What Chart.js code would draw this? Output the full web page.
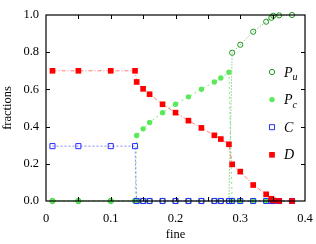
<!DOCTYPE html>
<html lang="en">
  <head>
    <meta charset="utf-8" />
    <title>fractions vs fine</title>
    <style>
      * {
        margin: 0;
        padding: 0;
      }
      body {
        background: white;
      }
    </style>
  </head>
  <body>
    <canvas id="myChart" width="316" height="244"></canvas>
    <script src="https://cdn.jsdelivr.net/npm/chart.js"></script>
    <script>
      // data
      const fine = [0.01, 0.05, 0.1, 0.1375, 0.14, 0.15, 0.16, 0.18, 0.2, 0.22, 0.24, 0.26, 0.27, 0.2825, 0.2875, 0.3, 0.32, 0.34, 0.348, 0.351, 0.36, 0.38];
      const pu = [0, 0, 0, 0, 0, 0, 0, 0, 0, 0, 0, 0, 0, 0, 0.797, 0.84, 0.91, 0.964, 0.985, 0.996, 0.998, 1.0];
      const pc = [0, 0, 0, 0, 0.352, 0.388, 0.422, 0.475, 0.52, 0.56, 0.601, 0.64, 0.661, 0.692, 0, 0, 0, 0, 0, 0, 0, 0];
      const coop = [0.295, 0.295, 0.295, 0.295, 0, 0, 0, 0, 0, 0, 0, 0, 0, 0, 0, 0, 0, 0, 0, 0, 0, 0];
      const defect = [0.7, 0.7, 0.7, 0.7, 0.64, 0.603, 0.574, 0.52, 0.475, 0.432, 0.393, 0.353, 0.333, 0.305, 0.197, 0.158, 0.086, 0.036, 0.012, 0.003, 0, 0];

      const xTicks = [0, 0.1, 0.2, 0.3, 0.4];
      const xLabels = ["0", "0.1", "0.2", "0.3", "0.4"];
      const yTicks = [0, 0.2, 0.4, 0.6, 0.8, 1.0];
      const yLabels = ["0.0", "0.2", "0.4", "0.6", "0.8", "1.0"];
      const names = [["P", "u"], ["P", "c"], ["C", ""], ["D", ""]];

      const serif = "'Liberation Serif', 'DejaVu Serif', serif";

      function pts(ys) {
        return fine.map((x, i) => ({ x: x, y: ys[i] }));
      }

      const data = {
        datasets: [
          {
            data: pts(pu),
            showLine: true,
            borderColor: "rgba(20, 140, 20, 0.7)",
            borderWidth: 1,
            borderDash: [1, 2],
            pointStyle: "circle",
            pointRadius: 2.6,
            pointBorderWidth: 1,
            pointBorderColor: "#1f9a1f",
            pointBackgroundColor: "rgba(0,0,0,0)",
            order: 4,
            clip: false,
          },
          {
            data: pts(pc),
            showLine: true,
            borderColor: "rgba(90, 230, 90, 0.8)",
            borderWidth: 1,
            borderDash: [2, 3],
            pointStyle: "circle",
            pointRadius: 2.7,
            pointBorderWidth: 0,
            pointBackgroundColor: "#5be85b",
            order: 3,
            clip: false,
          },
          {
            data: pts(coop),
            showLine: true,
            borderColor: "rgba(60, 60, 255, 0.6)",
            borderWidth: 1,
            borderDash: [2, 2],
            pointStyle: "rect",
            pointRadius: 3.6,
            pointBorderWidth: 1,
            pointBorderColor: "#2a2aff",
            pointBackgroundColor: "rgba(0,0,0,0)",
            order: 2,
            clip: false,
          },
          {
            data: pts(defect),
            showLine: true,
            borderColor: "rgba(255, 40, 40, 0.6)",
            borderWidth: 1,
            borderDash: [4, 2, 1, 2],
            pointStyle: "rect",
            pointRadius: 4,
            pointBorderWidth: 0,
            pointBackgroundColor: "#ff0000",
            order: 1,
            clip: false,
          },
        ],
      };

      // box, inward ticks and the legend
      const framePlugin = {
        id: "frame",
        afterDatasetsDraw(chart) {
          const ctx = chart.ctx;
          const a = chart.chartArea;
          const xs = chart.scales.x;
          const ys = chart.scales.y;
          ctx.save();
          ctx.strokeStyle = "#000";
          ctx.lineWidth = 1.2;
          ctx.strokeRect(a.left, a.top, a.right - a.left, a.bottom - a.top);
          ctx.lineWidth = 1;
          ctx.beginPath();
          for (let k = 1; k < 8; k++) {
            const px = Math.round(xs.getPixelForValue(k * 0.05)) + 0.5;
            ctx.moveTo(px, a.bottom);
            ctx.lineTo(px, a.bottom - 4);
            ctx.moveTo(px, a.top);
            ctx.lineTo(px, a.top + 4);
          }
          yTicks.slice(1, -1).forEach((v) => {
            const py = Math.round(ys.getPixelForValue(v)) + 0.5;
            ctx.moveTo(a.left, py);
            ctx.lineTo(a.left + 4, py);
            ctx.moveTo(a.right, py);
            ctx.lineTo(a.right - 4, py);
          });
          ctx.stroke();

          // legend
          const lx = a.right - 33;
          chart.data.datasets.forEach((ds, i) => {
            const ly = a.top + 57 + i * 27.6;
            ctx.save();
            ctx.setLineDash([]);
            ctx.lineWidth = ds.pointBorderWidth || 0;
            ctx.strokeStyle = ds.pointBorderColor || "transparent";
            ctx.fillStyle = ds.pointBackgroundColor;
            Chart.helpers.drawPoint(ctx, { pointStyle: ds.pointStyle, radius: ds.pointRadius, borderWidth: ds.pointBorderWidth }, lx, ly);
            ctx.restore();
            ctx.fillStyle = "#000";
            ctx.textBaseline = "alphabetic";
            ctx.textAlign = "left";
            ctx.font = "italic 14px " + serif;
            ctx.fillText(names[i][0], lx + 12, ly + 4.5);
            if (names[i][1]) {
              const w = ctx.measureText(names[i][0]).width;
              ctx.font = "italic 10px " + serif;
              ctx.fillText(names[i][1], lx + 12 + w, ly + 8);
            }
          });
          ctx.restore();
        },
      };

      // invisible tick marks only push the labels away from the axis
      const hiddenGrid = {
        display: true,
        color: "rgba(0,0,0,0)",
        drawOnChartArea: false,
        drawTicks: true,
      };

      const config = {
        type: "scatter",
        data,
        options: {
          responsive: false,
          animation: false,
          devicePixelRatio: 1,
          layout: {
            padding: { top: 15, right: 11, left: 0, bottom: 0 },
          },
          plugins: {
            legend: { display: false },
            tooltip: { enabled: false },
          },
          scales: {
            x: {
              type: "linear",
              min: 0,
              max: 0.4,
              grid: { ...hiddenGrid, tickLength: 9 },
              border: { display: false },
              afterBuildTicks: (s) => {
                s.ticks = xTicks.map((v) => ({ value: v }));
              },
              afterFit: (s) => {
                s.height = 43;
              },
              ticks: {
                padding: 1,
                color: "#000",
                font: { family: serif, size: 12.5 },
                maxRotation: 0,
                callback: (v, i) => xLabels[i],
              },
              title: {
                display: true,
                text: "fine",
                color: "#000",
                font: { family: serif, size: 12.5 },
                padding: { top: 0, bottom: 2 },
              },
            },
            y: {
              type: "linear",
              min: 0,
              max: 1,
              grid: { ...hiddenGrid, tickLength: 6 },
              border: { display: false },
              afterBuildTicks: (s) => {
                s.ticks = yTicks.map((v) => ({ value: v }));
              },
              afterFit: (s) => {
                s.width = 46;
              },
              ticks: {
                padding: 1,
                color: "#000",
                font: { family: serif, size: 12.5 },
                callback: (v, i) => yLabels[i],
              },
              title: {
                display: true,
                text: "fractions",
                color: "#000",
                font: { family: serif, size: 12.5 },
                padding: { top: 0, bottom: 0 },
              },
            },
          },
        },
        plugins: [framePlugin],
      };

      const myChart = new Chart(document.getElementById("myChart"), config);
    </script>
  </body>
</html>
